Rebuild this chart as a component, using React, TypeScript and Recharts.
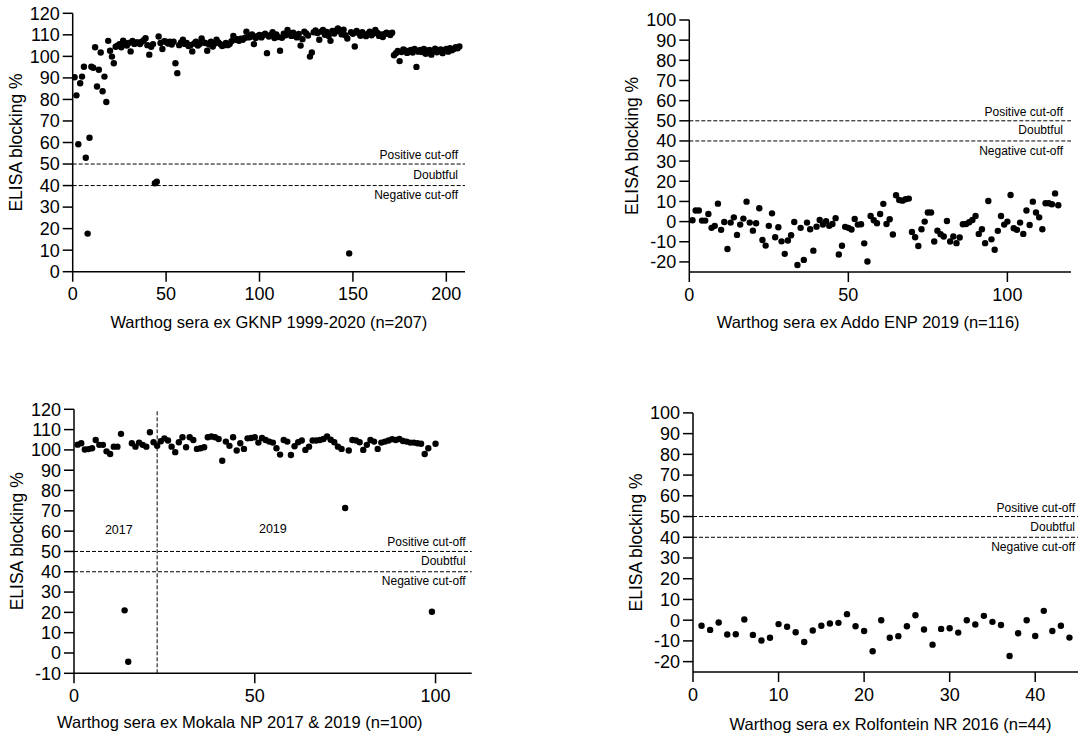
import React from 'react';
import { ScatterChart, Scatter, XAxis, YAxis, ReferenceLine, ReferenceDot } from 'recharts';

const FONT = '"Liberation Sans", Arial, Helvetica, sans-serif';

// Warthog sera ex GKNP 1999-2020 (n=207)
const gknpValues = [
  90.3, 81.9, 59.2, 87.5, 90.6, 95.2, 52.9, 17.7, 62.2, 95.2,
  94.7, 104.2, 86.0, 93.8, 101.8, 83.8, 90.6, 78.8, 107.2, 102.6,
  99.9, 96.8, 104.5, 104.9, 105.6, 104.2, 107.3, 106.1, 105.0, 106.2,
  102.3, 107.2, 105.8, 106.5, 106.5, 105.7, 106.8, 107.5, 108.4, 105.2,
  100.8, 104.5, 105.7, 41.1, 41.8, 109.2, 106.2, 103.4, 107.0, 106.8,
  106.0, 106.8, 105.5, 106.8, 96.8, 92.2, 105.2, 106.5, 107.7, 105.8,
  106.2, 104.8, 105.2, 102.3, 106.0, 106.8, 105.0, 105.7, 108.3, 106.5,
  106.2, 102.6, 105.5, 106.8, 104.6, 106.0, 107.7, 106.5, 105.7, 104.8,
  105.2, 106.2, 105.2, 105.7, 107.0, 109.5, 107.7, 108.0, 107.2, 108.2,
  107.7, 108.5, 111.4, 108.8, 109.0, 110.2, 105.7, 108.5, 109.5, 110.0,
  108.8, 109.8, 110.5, 101.5, 109.2, 110.0, 111.2, 108.5, 110.2, 109.0,
  102.6, 108.6, 110.5, 109.8, 112.3, 110.8, 109.5, 111.0, 109.6, 108.8,
  110.4, 105.0, 108.0, 111.5, 110.6, 109.7, 99.9, 101.8, 111.2, 112.0,
  110.8, 107.7, 111.5, 112.3, 110.0, 111.3, 109.5, 107.2, 111.8, 110.6,
  112.0, 113.0, 111.6, 110.2, 112.4, 109.8, 108.3, 8.5, 111.2, 110.5,
  104.6, 111.8, 110.8, 109.6, 111.2, 110.0, 109.4, 110.5, 111.5, 109.8,
  110.6, 112.3, 111.0, 109.5, 110.2, 109.0, 110.4, 111.0, 110.5, 109.9,
  111.0, 100.5, 101.5, 102.5, 97.8, 102.0, 103.2, 102.8, 101.6, 102.5,
  103.0, 101.8, 103.5, 95.1, 102.2, 103.0, 102.0, 103.4, 101.2, 102.6,
  103.0, 100.8, 102.4, 103.6, 101.9, 102.8, 103.2, 101.5, 102.9, 103.5,
  102.2, 103.8, 102.8, 103.4, 104.2, 103.8, 104.6,
];

// Warthog sera ex Addo ENP 2019 (n=116)
const addoValues = [
  0.7, 5.5, 5.5, 0.5, 0.5, 3.8, -3.1, -2.1, 8.9, -4.1,
  -0.2, -13.6, -0.5, 2.1, -6.6, -1.5, 1.5, 9.9, -0.5, -4.5,
  -0.8, 6.6, -9.1, -11.9, -2.1, 4.1, -7.8, -2.8, -9.8, -16,
  -9.4, -6.8, -0.2, -21.5, -3.1, -19, -0.5, -3.8, -14.4, -2.5,
  0.8, -1.5, 0.2, -2.1, -1.2, 1.7, -16.3, -12, -2.6, -3.1,
  -3.9, 1.3, -1.5, -1.3, -10.8, -19.8, 2.8, 0.7, -0.8, 3.8,
  8.8, -1.2, 1.2, -6.4, 13.1, 10.7, 10.4, 11.1, 11.4, -5.1,
  -7.8, -12.1, -3.8, 0, 4.5, 4.5, -9.9, -4.5, -6.3, -7.4,
  0.3, -9.9, -7.4, -10.7, -7.9, -1.3, -1.2, -0.3, 0.8, 2.8,
  -6.1, -3.8, -10.7, 10.2, -8.8, -14, -4.6, 2.8, -1.5, 0,
  13.2, -3.3, -4.1, -0.5, -6.1, 5.5, -1.7, 9.9, 4.5, 2.1,
  -3.8, 9.1, 9.1, 8.6, 14, 8.1,
];

// Warthog sera ex Mokala NP 2017 & 2019 (n=100)
const mokalaValues = [
  102.6, 103.3, 100.2, 100.4, 100.8, 104.9, 102.5, 102.5, 99.3, 98.0,
  101.6, 101.6, 107.9, 21.0, -4.3, 103.3, 101.6, 103.6, 102.5, 101.6,
  108.7, 103.8, 102.0, 104.3, 105.7, 104.6, 101.6, 98.9, 103.8, 106.2,
  101.3, 106.2, 104.9, 100.5, 100.8, 101.3, 106.2, 106.6, 106.2, 105.4,
  94.7, 104.1, 102.0, 106.2, 99.7, 103.3, 100.5, 105.7, 105.9, 106.2,
  103.6, 105.9, 104.9, 104.1, 103.6, 100.8, 97.7, 104.9, 104.1, 97.5,
  101.8, 103.8, 104.6, 100.0, 101.6, 104.6, 104.6, 104.9, 105.4, 106.6,
  105.0, 103.8, 101.6, 100.5, 71.4, 99.7, 104.9, 104.6, 103.8, 100.0,
  102.5, 104.9, 104.1, 100.5, 103.6, 104.1, 104.6, 105.3, 104.9, 105.4,
  104.4, 104.1, 103.6, 103.6, 103.3, 103.0, 98.0, 100.8, 20.3, 103.0,
];

// Warthog sera ex Rolfontein NR 2016 (n=44)
const rolfonteinValues = [
  -2.7, -4.7, -1.1, -6.9, -6.8, 0.3, -7.1, -9.8, -8.5, -1.9,
  -3.2, -5.8, -10.5, -5.0, -2.7, -1.6, -1.3, 2.9, -2.9, -5.2,
  -15.0, 0.0, -8.5, -7.7, -2.9, 2.4, -4.5, -11.8, -4.2, -3.9,
  -6.0, 0.0, -2.1, 2.1, -0.8, -2.3, -17.3, -6.3, 0.0, -7.6,
  4.5, -5.2, -2.7, -8.4,
];

const yTicks120 = [0, 10, 20, 30, 40, 50, 60, 70, 80, 90, 100, 110, 120];
const yTicksNeg10 = [-10, 0, 10, 20, 30, 40, 50, 60, 70, 80, 90, 100, 110, 120];
const yTicks100 = [-20, -10, 0, 10, 20, 30, 40, 50, 60, 70, 80, 90, 100];

const positiveCutoff = 50;
const negativeCutoff = 40;
const mokalaYearSplit = 23;

const toPoints = (vals: number[]) => vals.map((v, i) => ({ x: i + 1, y: v }));

const DotShape = (props: any) =>
  props.cx == null || props.cy == null ? null : (
    <circle cx={props.cx} cy={props.cy} r={3.2} fill="#000" />
  );

const axisStroke = { stroke: '#000', strokeWidth: 1.5 };
const tickStyle = { fill: '#000', fontSize: 18, fontFamily: FONT };

type PanelProps = {
  left: number;
  top: number;
  width: number;
  height: number;
  margin: { top: number; right: number; bottom: number; left: number };
  xDomain: [number, number];
  xTicks: number[];
  yDomain: [number, number];
  yTicks: number[];
  values: number[];
  xTitle: string;
  titleShift: number;
  titleDy: number;
  cutPad: number;
  extra?: React.ReactNode;
};

function Panel(p: PanelProps) {
  const data = toPoints(p.values);
  const cutLabel = (text: string, dy: number) => (props: any) => {
    const vb = props.viewBox || {};
    return (
      <text
        x={vb.x + vb.width - p.cutPad}
        y={vb.y + dy}
        textAnchor="end"
        dominantBaseline="central"
        fontSize={12}
        fontFamily={FONT}
        fill="#000"
      >
        {text}
      </text>
    );
  };
  return (
    <div style={{ position: 'absolute', left: p.left, top: p.top, width: p.width, height: p.height }}>
      <ScatterChart width={p.width} height={p.height} margin={p.margin}>
        <XAxis
          type="number"
          dataKey="x"
          domain={p.xDomain}
          ticks={p.xTicks}
          interval={0}
          height={30}
          tickSize={10}
          tickMargin={6}
          axisLine={axisStroke}
          tickLine={axisStroke}
          tick={tickStyle}
          allowDataOverflow
          label={(props: any) => {
            const vb = props.viewBox || {};
            return (
              <text
                x={vb.x + vb.width / 2 + p.titleShift}
                y={vb.y + p.titleDy}
                textAnchor="middle"
                dominantBaseline="central"
                fontSize={16.5}
                fontFamily={FONT}
                fill="#000"
              >
                {p.xTitle}
              </text>
            );
          }}
        />
        <YAxis
          type="number"
          dataKey="y"
          domain={p.yDomain}
          ticks={p.yTicks}
          interval={0}
          width={60}
          tickSize={10}
          tickMargin={3}
          axisLine={axisStroke}
          tickLine={axisStroke}
          tick={tickStyle}
          allowDataOverflow
          label={(props: any) => {
            const vb = props.viewBox || {};
            const cx = vb.x + vb.width - 57;
            const cy = vb.y + vb.height / 2;
            return (
              <text
                x={cx}
                y={cy}
                transform={`rotate(-90 ${cx} ${cy})`}
                textAnchor="middle"
                dominantBaseline="central"
                fontSize={17.5}
                fontFamily={FONT}
                fill="#000"
              >
                ELISA blocking %
              </text>
            );
          }}
        />
        <ReferenceLine
          y={positiveCutoff}
          stroke="#000"
          strokeWidth={1}
          strokeDasharray="4 2"
          label={cutLabel('Positive cut-off', -9)}
        />
        <ReferenceLine
          y={negativeCutoff}
          stroke="#000"
          strokeWidth={1}
          strokeDasharray="4 2"
          label={cutLabel('Doubtful', -10.5)}
        />
        <ReferenceLine
          y={negativeCutoff}
          stroke="none"
          label={cutLabel('Negative cut-off', 9.7)}
        />
        {p.extra}
        <Scatter data={data} isAnimationActive={false} shape={DotShape} />
      </ScatterChart>
    </div>
  );
}

const yearLabel = (text: string) => (props: any) => {
  const vb = props.viewBox || {};
  return (
    <text
      x={vb.x + vb.width / 2}
      y={vb.y + vb.height / 2}
      textAnchor="middle"
      dominantBaseline="central"
      fontSize={12.5}
      fontFamily={FONT}
      fill="#000"
    >
      {text}
    </text>
  );
};

export default function App() {
  return (
    <div style={{ position: 'absolute', left: 0, top: 0, width: 1084, height: 747, background: '#fff' }}>
      <Panel
        left={0}
        top={0}
        width={540}
        height={370}
        margin={{ top: 13.3, right: 75, bottom: 68.3, left: 12.7 }}
        xDomain={[0, 210]}
        xTicks={[0, 50, 100, 150, 200]}
        yDomain={[0, 120]}
        yTicks={yTicks120}
        values={gknpValues}
        xTitle="Warthog sera ex GKNP 1999-2020 (n=207)"
        titleShift={0}
        titleDy={50.5}
        cutPad={7}
      />
      <Panel
        left={540}
        top={0}
        width={544}
        height={370}
        margin={{ top: 20, right: 13, bottom: 68, left: 89.3 }}
        xDomain={[0, 120]}
        xTicks={[0, 50, 100]}
        yDomain={[-25, 100]}
        yTicks={yTicks100}
        values={addoValues}
        xTitle="Warthog sera ex Addo ENP 2019 (n=116)"
        titleShift={-12}
        titleDy={50}
        cutPad={8}
      />
      <Panel
        left={0}
        top={373}
        width={540}
        height={374}
        margin={{ top: 36.3, right: 68.3, bottom: 43.7, left: 14 }}
        xDomain={[0, 110]}
        xTicks={[0, 50, 100]}
        yDomain={[-10, 120]}
        yTicks={yTicksNeg10}
        values={mokalaValues}
        xTitle="Warthog sera ex Mokala NP 2017 & 2019 (n=100)"
        titleShift={-33}
        titleDy={49}
        cutPad={6}
        extra={[
          <ReferenceLine
            key="split"
            x={mokalaYearSplit}
            stroke="#000"
            strokeWidth={1}
            strokeDasharray="4 2"
          />,
          <ReferenceDot key="y2017" x={12.4} y={60.6} r={1} fill="none" stroke="none" label={yearLabel('2017')} />,
          <ReferenceDot key="y2019" x={55} y={61} r={1} fill="none" stroke="none" label={yearLabel('2019')} />,
        ]}
      />
      <Panel
        left={540}
        top={373}
        width={544}
        height={374}
        margin={{ top: 39.9, right: 6, bottom: 45, left: 93 }}
        xDomain={[0, 45]}
        xTicks={[0, 10, 20, 30, 40]}
        yDomain={[-25, 100]}
        yTicks={yTicks100}
        values={rolfonteinValues}
        xTitle="Warthog sera ex Rolfontein NR 2016 (n=44)"
        titleShift={5}
        titleDy={52}
        cutPad={3}
      />
    </div>
  );
}
